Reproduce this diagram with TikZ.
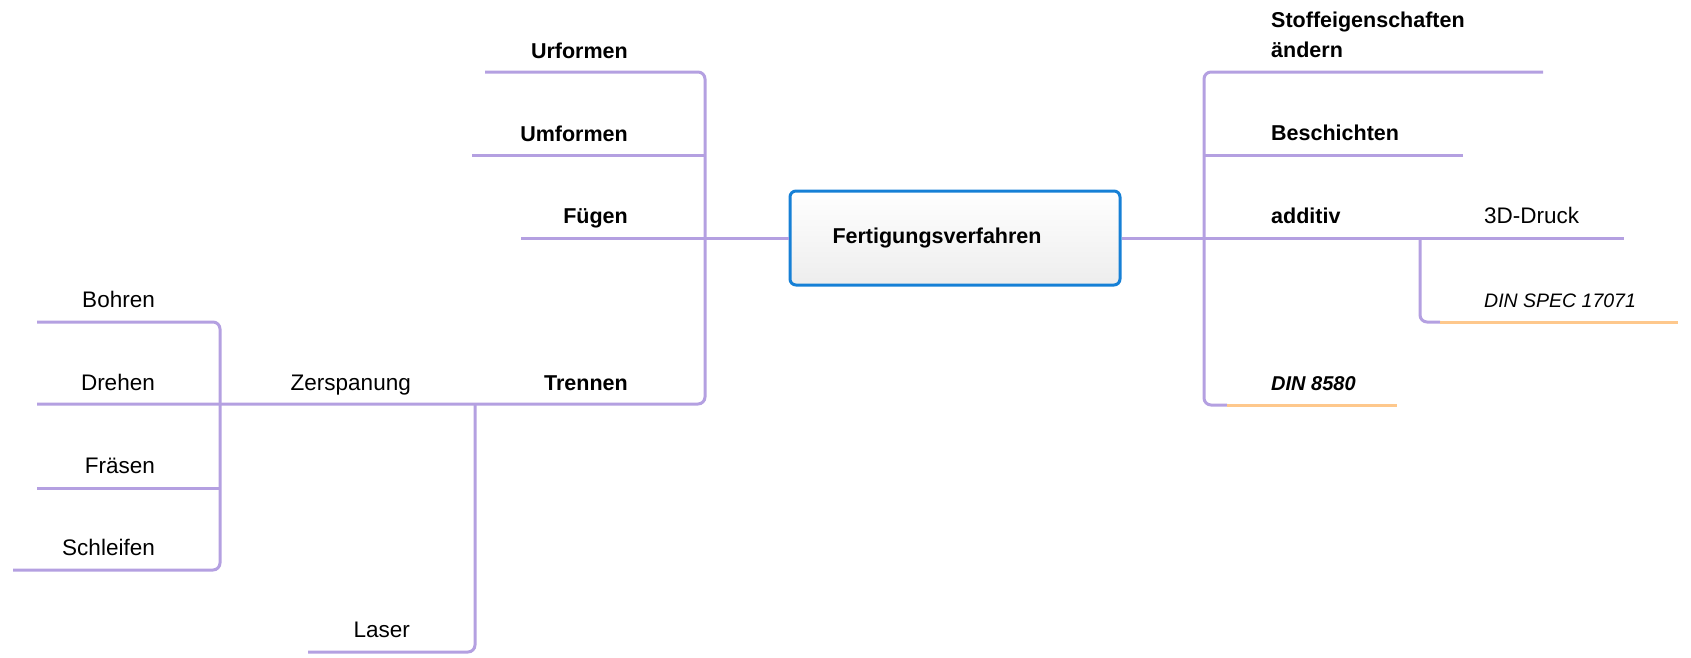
\documentclass[tikz,border=0pt]{standalone}
\usepackage{fontspec}
\setmainfont{Liberation Sans}

\definecolor{branch}{RGB}{180,160,225}
\definecolor{normline}{RGB}{254,200,140}
\definecolor{rootblue}{RGB}{22,128,214}

\begin{document}
\begin{tikzpicture}[x=1pt, y=-1pt,
    main/.style={font=\fontsize{21.5}{30}\selectfont\bfseries, inner sep=0pt},
    sub/.style={font=\fontsize{22.5}{27}\selectfont, inner sep=0pt},
    norm/.style={font=\fontsize{19.5}{23}\selectfont\itshape, inner sep=0pt},
    root/.style={draw=rootblue, line width=3pt, rounded corners=6pt,
      top color=white, bottom color=black!7, minimum width=330pt,
      minimum height=94pt, text width=245pt, inner xsep=42.5pt,
      font=\fontsize{21.5}{26}\selectfont\bfseries},
    link/.style={draw=branch, line width=3pt, rounded corners=7pt},
    normlink/.style={draw=normline, line width=3pt}]
  \useasboundingbox (0,0) rectangle (1691,657);

  \node[root] (root) at (955,238) {Fertigungsverfahren};

  % junctions
  \coordinate (jl) at (705,238);
  \coordinate (jr) at (1204,238);
  \coordinate (jt) at (475,404);
  \coordinate (jz) at (220,404);
  \coordinate (ja) at (1420,238);

  % free ends of the branches
  \coordinate (urf) at (485,72);
  \coordinate (umf) at (472,155);
  \coordinate (fue) at (521,238);
  \coordinate (dre) at (37,404);
  \coordinate (boh) at (37,322);
  \coordinate (fra) at (37,488);
  \coordinate (sch) at (13,570);
  \coordinate (las) at (308,652);
  \coordinate (sto) at (1543,72);
  \coordinate (bes) at (1463,155);
  \coordinate (dru) at (1624,238);
  \coordinate (dinA) at (1227,405);
  \coordinate (dinB) at (1397,405);
  \coordinate (specA) at (1440,322);
  \coordinate (specB) at (1678,322);

  % left side
  \draw[link] (jl) -- (root.west);
  \draw[link] (urf) -| (jl) |- (dre);
  \draw[link] (umf) -- (umf -| jl);
  \draw[link] (fue) -- (jl);
  \draw[link] (boh) -| (jz) |- (sch);
  \draw[link] (fra) -- (fra -| jz);
  \draw[link] (jt) |- (las);

  % right side
  \draw[link] (root.east) -- (jr);
  \draw[link] (sto) -| (jr) |- (dinA);
  \draw[normlink] (dinA) -- (dinB);
  \draw[link] (bes) -- (bes -| jr);
  \draw[link] (jr) -- (dru);
  \draw[link] (ja) |- (specA);
  \draw[normlink] (specA) -- (specB);

  \node[main, anchor=base east] (urformen) at (628,58) {Urformen};
  \node[main, anchor=base east] (umformen) at (628,141) {Umformen};
  \node[main, anchor=base east] (fuegen) at (628,223) {Fügen};
  \node[main, anchor=base east] (trennen) at (628,390) {Trennen};
  \node[sub, anchor=base east] (zerspanung) at (411,390) {Zerspanung};
  \node[sub, anchor=base east] (laser) at (410,637) {Laser};
  \node[sub, anchor=base east] (bohren) at (155,307) {Bohren};
  \node[sub, anchor=base east] (drehen) at (155,390) {Drehen};
  \node[sub, anchor=base east] (fraesen) at (155,473) {Fräsen};
  \node[sub, anchor=base east] (schleifen) at (155,555) {Schleifen};

  \node[main, anchor=base west, align=left] (stoff) at (1271,57) {Stoffeigenschaften\\ändern};
  \node[main, anchor=base west] (beschichten) at (1271,140) {Beschichten};
  \node[main, anchor=base west] (additiv) at (1271,223) {additiv};
  \node[sub, anchor=base west] (druck) at (1484,223) {3D-Druck};
  \node[norm, anchor=base west] (dinspec) at (1484,307) {DIN SPEC 17071};
  \node[main, anchor=base west, font=\fontsize{20}{24}\selectfont\bfseries\itshape] (din) at (1271,390) {DIN 8580};
\end{tikzpicture}
\end{document}
